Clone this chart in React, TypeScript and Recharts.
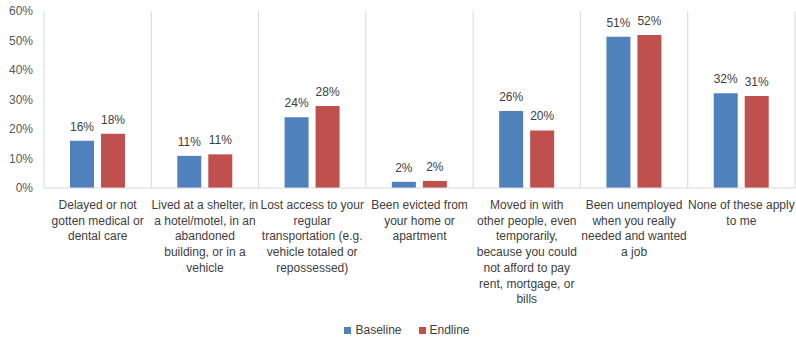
import { BarChart, Bar, XAxis, YAxis, CartesianGrid, Legend, LabelList } from 'recharts';

const categories = [
  ['Delayed or not', 'gotten medical or', 'dental care'],
  ['Lived at a shelter, in', 'a hotel/motel, in an', 'abandoned', 'building, or in a', 'vehicle'],
  ['Lost access to your', 'regular', 'transportation (e.g.', 'vehicle totaled or', 'repossessed)'],
  ['Been evicted from', 'your home or', 'apartment'],
  ['Moved in with', 'other people, even', 'temporarily,', 'because you could', 'not afford to pay', 'rent, mortgage, or', 'bills'],
  ['Been unemployed', 'when you really', 'needed and wanted', 'a job'],
  ['None of these apply', 'to me'],
];
const baseline = [16.0, 10.9, 24.0, 2.1, 26.1, 51.3, 32.1];
const endline = [18.4, 11.4, 27.8, 2.4, 19.5, 51.9, 31.2];
const yTicks = [0, 10, 20, 30, 40, 50, 60];

const data = categories.map((lines, i) => ({
  name: String(i),
  lines,
  Baseline: baseline[i],
  Endline: endline[i],
}));

const FONT = '"Liberation Sans", Arial, sans-serif';
const BLUE = '#4f81bd';
const RED = '#c0504d';

function CategoryTick(props: any) {
  const { x, y, payload } = props;
  const lines = categories[Number(payload.value)];
  return (
    <text x={x} y={y} textAnchor="middle" fontSize={12} fill="#404040" fontFamily={FONT}>
      {lines.map((l, i) => (
        <tspan key={i} x={x} dy={i === 0 ? 13 : 15.7}>{l}</tspan>
      ))}
    </text>
  );
}

function LegendContent() {
  const item = (color: string, label: string) => (
    <span style={{ display: 'inline-flex', alignItems: 'center', marginRight: 17 }}>
      <span style={{ display: 'inline-block', width: 7, height: 7, background: color, marginRight: 4 }} />
      <span>{label}</span>
    </span>
  );
  return (
    <div style={{ display: 'flex', justifyContent: 'center', paddingLeft: 36, fontFamily: FONT, fontSize: 12, color: '#404040', lineHeight: '18px' }}>
      {item(BLUE, 'Baseline')}
      {item(RED, 'Endline')}
    </div>
  );
}

export default function App() {
  return (
    <div style={{ position: 'absolute', left: 0, top: 0, background: '#fff' }}>
      <BarChart
        width={796}
        height={339}
        data={data}
        margin={{ top: 11, right: 1, bottom: 0, left: 0 }}
        barCategoryGap={26}
        barGap={7}
      >
        <CartesianGrid
          horizontal={false}
          stroke="#d9d9d9"
          verticalCoordinatesGenerator={({ offset }: any) =>
            Array.from({ length: categories.length + 1 }, (_, i) => offset.left + (i * offset.width) / categories.length)
          }
        />
        <XAxis
          dataKey="name"
          height={133}
          interval={0}
          tickLine={false}
          axisLine={{ stroke: '#d9d9d9' }}
          tick={<CategoryTick />}
        />
        <YAxis
          width={44}
          domain={[0, 60]}
          ticks={yTicks}
          axisLine={false}
          tickLine={false}
          tickMargin={5}
          tickFormatter={(v: number) => `${v}%`}
          tick={{ fontSize: 12, fill: '#595959', fontFamily: FONT }}
        />
        <Legend verticalAlign="bottom" height={18} content={<LegendContent />} />
        <Bar dataKey="Baseline" fill={BLUE} isAnimationActive={false}>
          <LabelList
            dataKey="Baseline"
            position="top"
            offset={10}
            formatter={(v: any) => `${Math.round(v)}%`}
            style={{ fontSize: 12, fill: '#404040', fontFamily: FONT }}
          />
        </Bar>
        <Bar dataKey="Endline" fill={RED} isAnimationActive={false}>
          <LabelList
            dataKey="Endline"
            position="top"
            offset={10}
            formatter={(v: any) => `${Math.round(v)}%`}
            style={{ fontSize: 12, fill: '#404040', fontFamily: FONT }}
          />
        </Bar>
      </BarChart>
    </div>
  );
}
